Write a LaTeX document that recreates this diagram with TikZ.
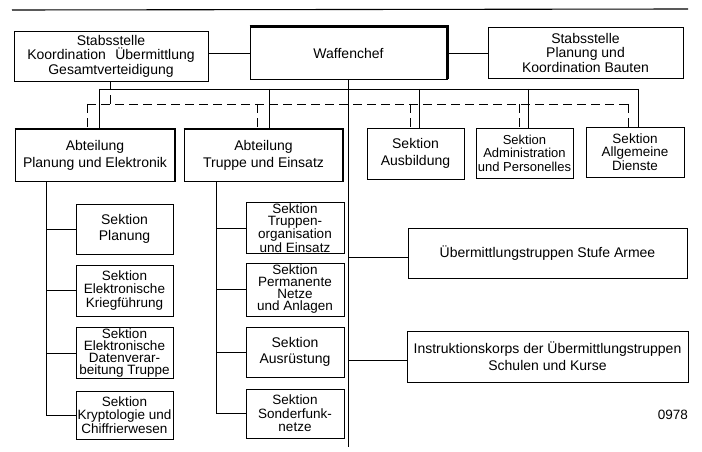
\documentclass[tikz,border=0pt]{standalone}
\usepackage{fontspec}
\setmainfont{Liberation Sans}
\begin{document}
\begin{tikzpicture}[x=1pt,y=-1pt,
  box/.style={draw, line width=0.9pt, align=center, inner sep=1pt, font=\fontsize{14}{17}\selectfont},
  three/.style={box, font=\fontsize{14}{14.5}\selectfont},
  sek/.style={box, minimum width=97pt, font=\fontsize{14}{16.5}\selectfont},
  sekthree/.style={sek, font=\fontsize{13.5}{13.5}\selectfont},
  sekfour/.style={sek, font=\fontsize{13.5}{12}\selectfont},
  heavy/.style={line width=2.8pt, line join=miter},
  medheavy/.style={line width=2pt, line join=miter},
  conn/.style={line width=0.9pt},
  dconn/.style={line width=0.9pt, dash pattern=on 9pt off 5pt}]
\useasboundingbox (0,0) rectangle (702,452);

% top rule
\coordinate (ruleL) at (12,10);
\coordinate (ruleR) at (688,9);
\draw[line width=1.1pt] (ruleL) -- (ruleR);

% top row
\node[three, minimum width=194pt, minimum height=50pt] (stabL) at (111,56)
  {Stabsstelle\\Koordination\hspace{0.4em} Übermittlung\\Gesamtverteidigung};
\node[box, minimum width=197pt, minimum height=52pt] (waffen) at (348.5,53) {Waffenchef};
\node[three, minimum width=195pt, minimum height=51pt] (stabR) at (585.5,52.5)
  {Stabsstelle\\Planung und\\Koordination Bauten};
\draw[heavy] (waffen.north west) -- (waffen.north east) -- (waffen.south east);

\draw[conn] (waffen.west) -- (waffen.west -| stabL.east);
\draw[conn] (waffen.east) -- (waffen.east -| stabR.west);

% second row
\node[box, minimum width=160pt, minimum height=52pt] (abtP) at (95,155)
  {Abteilung\\Planung und Elektronik};
\node[box, minimum width=159pt, minimum height=52pt] (abtT) at (263.5,155)
  {Abteilung\\Truppe und Einsatz};
\draw[medheavy] (abtP.north west) -- (abtP.north east) -- (abtP.south east);
\draw[medheavy] (abtT.north west) -- (abtT.north east) -- (abtT.south east);
\node[sek, minimum height=51pt] (ausb) at (415.5,153.5) {Sektion\\Ausbildung};
\node[sekthree, minimum height=50pt, font=\fontsize{13}{13.5}\selectfont] (admin) at (524.5,153) {Sektion\\Administration\\und Personelles};
\node[sekthree, minimum width=98pt, minimum height=50pt] (allg) at (635,152) {Sektion\\Allgemeine\\Dienste};

% solid bus
\coordinate (sb1) at (99,89);
\coordinate (sb2) at (269,89);
\coordinate (sb3) at (419,89);
\coordinate (sb4) at (528,89);
\coordinate (sb5) at (638,89);
\draw[conn] (sb1) -- (sb5);
\draw[conn] (sb1) -- (sb1 |- abtP.north);
\draw[conn] (sb2) -- (sb2 |- abtT.north);
\draw[conn] (sb3) -- (sb3 |- ausb.north);
\draw[conn] (sb4) -- (sb4 |- admin.north);
\draw[conn] (sb5) -- (sb5 |- allg.north);

% dashed bus
\coordinate (db0) at (110,104);
\coordinate (db1) at (87,104);
\coordinate (db2) at (257,104);
\coordinate (db3) at (410,104);
\coordinate (db4) at (519,104);
\coordinate (db5) at (628,104);
\draw[dconn] (db0 |- stabL.south) -- (db0);
\draw[dconn] (db1) -- (db5);
\draw[dconn] (db1) -- (db1 |- abtP.north);
\draw[dconn] (db2) -- (db2 |- abtT.north);
\draw[dconn] (db3) -- (db3 |- ausb.north);
\draw[dconn] (db4) -- (db4 |- admin.north);
\draw[dconn] (db5) -- (db5 |- allg.north);

% left column
\node[sek, minimum height=50pt] (s1) at (124.5,229) {Sektion\\Planung};
\node[sekthree, minimum height=51pt] (s2) at (124.5,290.5) {Sektion\\Elektronische\\Kriegführung};
\node[sekfour, minimum height=50pt] (s3) at (124.5,353) {Sektion\\Elektronische\\Datenverar-\\beitung Truppe};
\node[sekthree, minimum height=48pt] (s4) at (124.5,415) {Sektion\\Kryptologie und\\Chiffrierwesen};
\coordinate (lc) at (46,415);
\draw[conn] (abtP.south -| lc) -- (lc) -- (s4.west);
\draw[conn] (lc |- s1.west) -- (s1.west);
\draw[conn] (lc |- s2.west) -- (s2.west);
\draw[conn] (lc |- s3.west) -- (s3.west);

% middle column
\node[sekfour, minimum width=98pt, minimum height=50pt] (t1) at (295,228) {Sektion\\Truppen-\\organisation\\und Einsatz};
\node[sekfour, minimum width=98pt, minimum height=53pt] (t2) at (295,289.5) {Sektion\\Permanente\\Netze\\und Anlagen};
\node[sek, minimum width=98pt, minimum height=50pt] (t3) at (295,352) {Sektion\\Ausrüstung};
\node[sekthree, minimum width=98pt, minimum height=49pt] (t4) at (295,413.5) {Sektion\\Sonderfunk-\\netze};
\coordinate (mc) at (216,413.5);
\draw[conn] (abtT.south -| mc) -- (mc) -- (t4.west);
\draw[conn] (mc |- t1.west) -- (t1.west);
\draw[conn] (mc |- t2.west) -- (t2.west);
\draw[conn] (mc |- t3.west) -- (t3.west);

% trunk from Waffenchef
\coordinate (trunkEnd) at (348.5,447);
\draw[conn] (waffen.south) -- (trunkEnd);
\node[box, minimum width=279pt, minimum height=50pt] (ueb) at (547.5,253)
  {Übermittlungstruppen Stufe Armee};
\node[box, minimum width=281pt, minimum height=51pt] (instr) at (547.5,356.5)
  {Instruktionskorps der Übermittlungstruppen\\Schulen und Kurse};
\coordinate (br1) at (348.5,257);
\coordinate (br2) at (348.5,360);
\draw[conn] (br1) -- (br1 -| ueb.west);
\draw[conn] (br2) -- (br2 -| instr.west);

\node[font=\fontsize{13.5}{13.5}\selectfont, anchor=east, inner sep=0pt] (num) at (688,415) {0978};
\end{tikzpicture}
\end{document}
